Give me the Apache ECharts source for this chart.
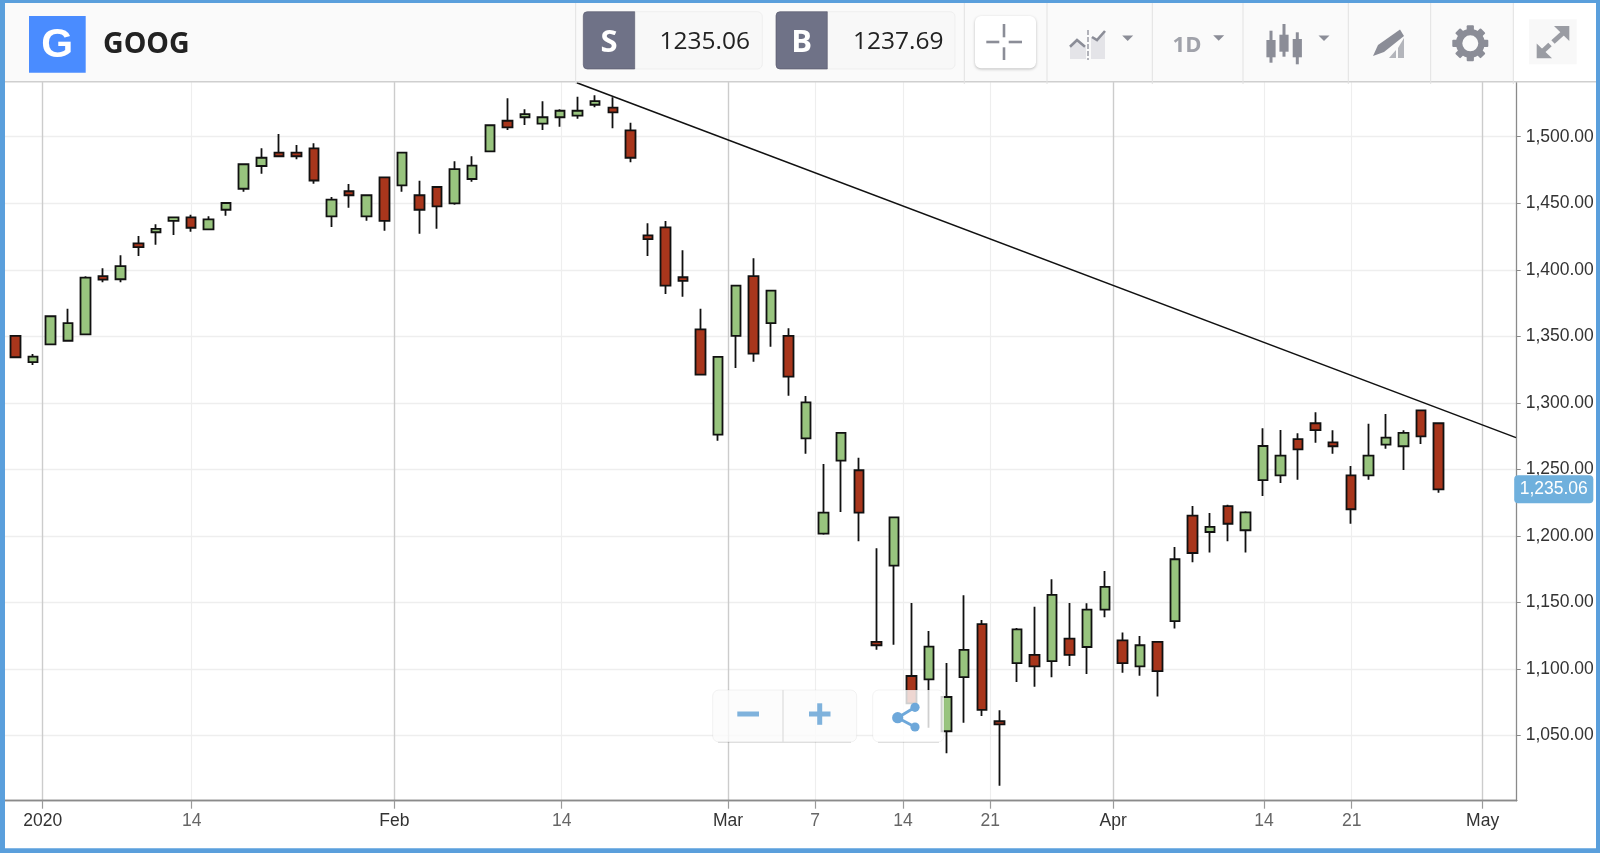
<!DOCTYPE html>
<html>
<head>
<meta charset="utf-8">
<title>GOOG</title>
<script src="https://cdn.jsdelivr.net/npm/echarts@6/dist/echarts.min.js"></script>
<style>html,body{margin:0;padding:0;background:#fff}#c{width:1600px;height:855px}</style>
</head>
<body>
<div id="c"></div>
<script>
// Daily candles, oldest first (prices)
const opens = [1350.3,1330.7,1344,1346.7,1351.5,1395.3,1392.9,1419.9,1428.2,1436.7,1439.4,1430.4,1445.1,1460.9,1478,1488,1488,1491.3,1440.2,1459,1440.2,1469.5,1463.5,1456,1462.2,1449.9,1468.2,1489,1512,1514.6,1509.8,1514.6,1515.8,1524,1521.8,1504.8,1425.9,1431.9,1394.4,1355.3,1276.1,1350.3,1395.3,1360,1350.3,1273.4,1201.7,1256.6,1249.4,1120.4,1177.7,1094.8,1092.3,1053.3,1093.9,1133.7,1060.8,1104.4,1110.6,1105.9,1122.9,1116.6,1144.6,1121.6,1102.1,1120.4,1136.1,1215.3,1203,1222.5,1204.3,1241.9,1245.6,1272.7,1284.7,1270.4,1245.6,1245.6,1268.6,1267.4,1294.4,1284.7];
const closes = [1334.3,1334.7,1365.1,1360,1394.1,1392.6,1402.8,1417.1,1430.7,1439.4,1431.6,1437.9,1450.2,1479.3,1484.2,1485.3,1485.3,1467.1,1452.7,1456,1456,1436.7,1488,1445.1,1447.7,1475.7,1478.2,1508.6,1507,1517,1514.6,1519.5,1519.5,1526.8,1518.3,1484.2,1423.1,1388.1,1391.6,1321.2,1334.5,1388.1,1337,1384.3,1319.7,1300.4,1217.5,1277.4,1217.5,1117.9,1214,1074.3,1116.8,1079,1114.4,1069.3,1058.5,1129.9,1102.1,1155.7,1110.6,1144.6,1161.7,1104.4,1117.9,1098.4,1182.5,1187.2,1206.8,1209.2,1217.8,1267.6,1260.3,1265.1,1279.6,1267.4,1220.1,1260.3,1273.9,1277.4,1274.9,1235.06];
const lows = [1333.5,1328.5,1344,1346.7,1351.5,1390.6,1390.6,1410.4,1418.9,1426.2,1428.6,1430.4,1440.6,1458.7,1472.2,1485.3,1483,1464.7,1432.2,1446.7,1436.9,1429.4,1458.7,1427.1,1430.9,1448.9,1466.2,1489,1505,1508.8,1505,1507.5,1513.5,1522.1,1506.3,1480.8,1410.4,1381.8,1379.8,1321.2,1271.6,1326.2,1331,1342.2,1305.4,1261.8,1201,1218,1196,1114.6,1118.3,1074.3,1056,1036.7,1059.7,1064.8,1012.4,1090.3,1086.8,1093.9,1102.3,1096.3,1138.9,1097.3,1095,1079.3,1130.4,1180.2,1187.5,1196,1187.5,1230.1,1239.8,1242.3,1270,1261.8,1209.2,1242.3,1265.6,1249.6,1269.1,1232.5];
const highs = [1350.3,1336.7,1365.8,1370.8,1395.1,1401.1,1410.9,1425.4,1434.2,1439.7,1441.4,1440.2,1450.2,1480,1491.3,1502,1493.8,1495,1454.7,1464.5,1456,1469.5,1488,1466.9,1462.2,1481.5,1485.3,1508.6,1528.8,1520.6,1526.6,1520.6,1530,1531.1,1529.6,1510.5,1434.9,1436.7,1414.6,1370.8,1334.5,1388.1,1408.6,1384.3,1356,1305.2,1254.1,1277.4,1258.8,1190.8,1214,1149.7,1128.6,1104.6,1155.5,1136.9,1069,1130.9,1146.9,1167.5,1149.7,1149.4,1173.7,1127.4,1124.9,1120.4,1191.7,1222.5,1217.3,1223.5,1218.6,1280.9,1279.6,1277.2,1292.9,1279.4,1252.6,1284.4,1291.7,1279.4,1294.4,1285.4];

// Time axis ticks, in units of trading-session number
const majorTicks = [1.56,21.57,40.56,62.48,83.5];
const majorLabels = ['2020','Feb','Mar','Apr','May'];
const minorTicks = [10.04,31.09,45.52,50.52,55.48,71.06,76.05];
const minorLabels = ['14','14','7','14','21','14','21'];
const priceTicks = [1050,1100,1150,1200,1250,1300,1350,1400,1450,1500];

// Hand-drawn trend line
const trendX = [31.95,85.4];
const trendY = [1540.6,1273.9];

const lastPrice = 1235.06;
const sellPrice = '1235.06';
const buyPrice = '1237.69';
const symbolName = 'GOOG';

const xMin = -0.586, xMax = 85.44, yMin = 1001.1, yMax = 1541.1;
const candles = opens.map((o,i)=>[i,o,closes[i],lows[i],highs[i]]);
const fmtPrice = v => v.toLocaleString('en-US',{minimumFractionDigits:2,maximumFractionDigits:2});

const ICON='#8b8d97', Z=100;
const els=[];
const rect=(x,y,w,h,fill,extra={})=>els.push({type:'rect',z:Z,shape:{x,y,width:w,height:h,r:extra.r||0},style:Object.assign({fill},extra.style||{})});
const line=(x1,y1,x2,y2,stroke,lw=1,extra={})=>els.push({type:'line',z:Z,shape:{x1,y1,x2,y2},style:Object.assign({stroke,lineWidth:lw},extra)});
const poly=(points,fill)=>els.push({type:'polygon',z:Z,shape:{points},style:{fill}});
const text=(s,x,y,font,fill,align='center')=>els.push({type:'text',z:Z+1,style:{text:s,x,y,font,fill,align,verticalAlign:'middle',textAlign:align,textVerticalAlign:'middle'}});
const tri=(cx,y)=>poly([[cx-5.5,y],[cx+5.5,y],[cx,y+5.5]],ICON);

// header
rect(0,0,1600,81,'#fafafa');
rect(0,81,1600,1.5,'#cfcfcf');
rect(1514,3,82,78,'#ffffff');
[575.7,964.3,1047,1152.3,1243,1348.3,1430.7,1513.3].forEach(x=>line(x,3,x,84,'#e2e2e2',1));
// logo
rect(29,16,56.7,56.7,'#4a8cff');
text('G',57.3,46,'700 41px "Liberation Sans"','#ffffff');
text(symbolName,103,45,'700 28.5px "Open Sans"','#222222','left');
// sell / buy
const priceBox=(x1,x2,xd,label,val,xr)=>{
  rect(x1,11.7,x2-x1,57.3,'#f8f8f8',{r:5,style:{stroke:'#efefef',lineWidth:1}});
  rect(x1,11.7,xd-x1,57.3,'#6f7287',{r:[4,0,0,4],style:{stroke:'#54566a',lineWidth:0.6}});
  text(label,(x1+xd)/2,43,'700 31px "Open Sans"','#ffffff');
  text(val,xr,42.5,'400 24.5px "Open Sans"','#222222','right');
};
priceBox(583.3,762.3,634.7,'S',sellPrice,750);
priceBox(776,955,827.3,'B',buyPrice,943.5);
// crosshair button
rect(975,16,61,52.3,'#ffffff',{r:6,style:{shadowBlur:3,shadowOffsetY:1,shadowColor:'rgba(0,0,0,0.25)'}});
line(986.3,42,999.3,42,ICON,2.6);line(1008.7,42,1022,42,ICON,2.6);
line(1004,24,1004,37.3,ICON,2.6);line(1004,47.3,1004,60,ICON,2.6);
// compare icon
poly([[1070,59],[1070,46.7],[1077,40],[1084,46.7],[1086,46],[1086,59]],'#e4e4e8');
poly([[1091,59],[1091,37],[1097,40],[1105,31],[1105,59]],'#e4e4e8');
els.push({type:'polyline',z:Z,shape:{points:[[1070,46.7],[1077,40],[1085,46.7]]},style:{stroke:ICON,lineWidth:2.6,fill:null}});
els.push({type:'polyline',z:Z,shape:{points:[[1092,37],[1097,40],[1105,31]]},style:{stroke:ICON,lineWidth:2.6,fill:null}});
line(1088,30,1088,60,ICON,1.3,{lineDash:[5,2]});
tri(1127.7,35.5);
// 1D
text('1D',1187,46,'700 22px "Open Sans"','#a0a2aa');
tri(1218.7,35.2);
// candle icon
[[1271,30.7,62.7,40,57.3],[1284,24,56.7,34.7,51.7],[1297.3,32.3,64.3,39,57.3]].forEach(c=>{
  line(c[0],c[1],c[0],c[2],ICON,3);
  rect(c[0]-4.6,c[3],9.2,c[4]-c[3],ICON);
});
tri(1324,35.5);
// draw icon
poly([[1373,56],[1378,45],[1400,29.5],[1404,36],[1384,52]],ICON);
poly([[1389,58],[1396,50],[1396,58]],'#b3b5bb');
poly([[1398,48],[1404,38],[1404,58],[1398,58]],'#b3b5bb');
// gear
const gx=1470.3,gy=43.3;
for(let k=0;k<8;k++)els.push({type:'rect',z:Z,x:gx,y:gy,rotation:k*Math.PI/4,shape:{x:-3.6,y:-18,width:7.2,height:8,r:1},style:{fill:ICON}});
els.push({type:'circle',z:Z,shape:{cx:gx,cy:gy,r:11.2},style:{fill:'none',stroke:ICON,lineWidth:6.4}});
// expand
rect(1529,19.3,47.7,45,'#f8f8f8');
const EX='#9a9ca3';
poly([[1569.3,26],[1569.3,41],[1554,26]],EX);line(1563,33,1553,42,EX,5);
poly([[1536.7,58.3],[1536.7,43.5],[1552,58.3]],EX);line(1543,51,1550,44.5,EX,5);
// zoom controls (translucent, over the plot)
const edge='rgba(0,0,0,0.10)';
const soft={stroke:'rgba(0,0,0,0.05)',lineWidth:1};
rect(712.7,690,144,52,'rgba(251,251,251,0.8)',{r:6,style:soft});
line(718,742.4,851,742.4,edge,1.4);
line(783,690,783,742,'#dfdfdf',1.3);
rect(737.3,711.5,21.7,5,'#7fb2dc');
rect(809,711.5,21.5,5,'#7fb2dc');rect(817.2,703.3,5,21.5,'#7fb2dc');
rect(872.7,690,71.3,52,'rgba(255,255,255,0.8)',{r:6,style:soft});
line(878,742.4,939,742.4,edge,1.4);
const SH='#6ea8da';
line(897.7,717.7,915,707.3,SH,3);line(897.7,717.7,915,727,SH,3);
[[897.7,717.7,5.6],[915,707.3,4.6],[915,727,4.6]].forEach(c=>els.push({type:'circle',z:Z,shape:{cx:c[0],cy:c[1],r:c[2]},style:{fill:SH}}));
// window frame
const BL='#5a9fdc';
rect(0,0,1600,3,BL);rect(0,0,5,853,BL);rect(1596,0,4,853,BL);rect(0,848.3,1600,4.7,BL);

const chart=echarts.init(document.getElementById('c'));
const xBase={type:'value',min:xMin,max:xMax,position:'bottom',
  axisLine:{show:true,onZero:false,lineStyle:{color:'#8a8a8a',width:1.3}},
  axisTick:{show:true,length:8,lineStyle:{color:'#9a9a9a',width:1.2}}};
const labelOf=(ticks,labels)=>v=>{const i=ticks.indexOf(v);return i<0?'':labels[i];};
chart.setOption({
  animation:false,
  backgroundColor:'#ffffff',
  grid:{left:5,right:83.3,top:82,bottom:54.3},
  xAxis:[
    Object.assign({},xBase,{
      axisTick:Object.assign({},xBase.axisTick,{customValues:minorTicks}),
      axisLabel:{customValues:minorTicks,formatter:labelOf(minorTicks,minorLabels),margin:11,color:'#666666',fontFamily:'Liberation Sans',fontSize:17.5},
      splitLine:{show:true,lineStyle:{color:'#eeeeee',width:1.2}}}),
    Object.assign({},xBase,{
      axisTick:Object.assign({},xBase.axisTick,{customValues:majorTicks}),
      axisLabel:{customValues:majorTicks,formatter:labelOf(majorTicks,majorLabels),margin:11,color:'#333333',fontFamily:'Liberation Sans',fontSize:17.5},
      splitLine:{show:true,lineStyle:{color:'#cccccc',width:1.4}}})
  ],
  yAxis:{type:'value',position:'right',min:yMin,max:yMax,
    axisLine:{show:true,onZero:false,lineStyle:{color:'#8a8a8a',width:1.3}},
    axisTick:{show:true,length:4,customValues:priceTicks,lineStyle:{color:'#8a8a8a'}},
    axisLabel:{customValues:priceTicks,formatter:fmtPrice,margin:9,color:'#333333',fontFamily:'Liberation Sans',fontSize:17.5},
    splitLine:{show:true,lineStyle:{color:'#eeeeee',width:1.3}}},
  series:[
    {type:'candlestick',xAxisIndex:0,yAxisIndex:0,barWidth:10,z:5,data:candles,
      itemStyle:{color:'#98c47e',color0:'#a8361c',borderColor:'#111111',borderColor0:'#111111',borderWidth:1.8},
      markPoint:{silent:true,animation:false,symbol:'rect',symbolSize:0,
        data:[{coord:[xMax,lastPrice],
          label:{show:true,position:'right',distance:-2.5,formatter:fmtPrice(lastPrice),
            color:'#ffffff',backgroundColor:'#6fb0dd',borderRadius:4,padding:[5,5.5,5,5.5],align:'left',
            fontFamily:'Liberation Sans',fontSize:17.5}}]}},
    {type:'line',xAxisIndex:0,yAxisIndex:0,z:6,symbol:'none',silent:true,
      data:trendX.map((x,i)=>[x,trendY[i]]),lineStyle:{color:'#111111',width:1.6}}
  ],
  graphic:{elements:els}
});
</script>
</body>
</html>
